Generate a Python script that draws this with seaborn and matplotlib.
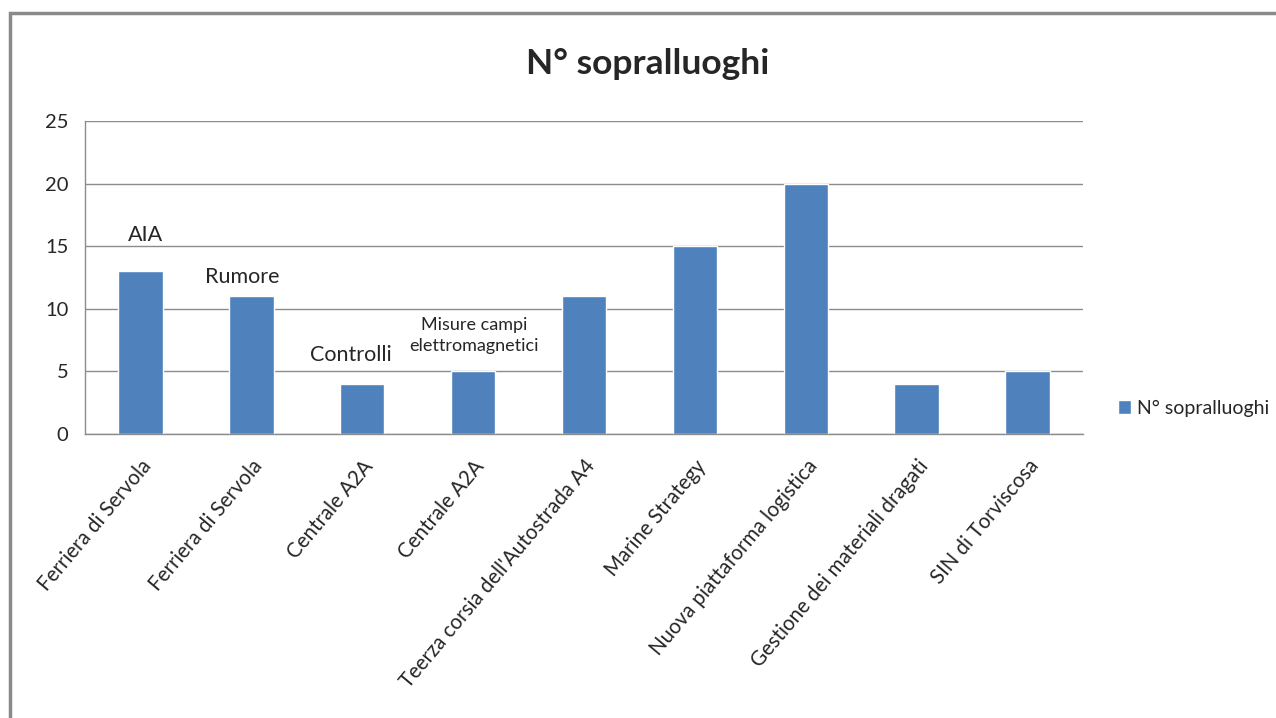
import numpy as np
import pandas as pd
import matplotlib.pyplot as plt
import seaborn as sns
from matplotlib.patches import Rectangle

# DATA
categories = ["Ferriera di Servola", "Ferriera di Servola", "Centrale A2A", "Centrale A2A",
              "Teerza corsia dell'Autostrada A4", "Marine Strategy", "Nuova piattaforma logistica",
              "Gestione dei materiali dragati", "SIN di Torviscosa"]
sopralluoghi = [13, 11, 4, 5, 11, 15, 20, 4, 5]
notes = ["AIA", "Rumore", "Controlli", "Misure campi\nelettromagnetici"]

sns.set_style("white")
plt.rcParams['font.family'] = ['Lato', 'DejaVu Sans']

df = pd.DataFrame({"pos": range(len(categories)), "n": sopralluoghi})

fig = plt.figure(figsize=(12.76, 7.18), dpi=100)
ax = fig.add_axes([85/1276, 1-434/718, (1083-85)/1276, (434-121)/718])

sns.barplot(data=df, x="pos", y="n", color="#4F81BD", saturation=1, width=0.4,
            label="N° sopralluoghi", ax=ax)

ax.set_ylim(0, 25)
ax.set_xlim(-0.5, len(categories) - 0.5)
ax.set_yticks(range(0, 26, 5))
ax.yaxis.grid(True, color="#8C8C8C", linewidth=1)
ax.set_axisbelow(True)
ax.set_xlabel("")
ax.set_ylabel("")

ax.set_xticks(range(len(categories)))
ax.set_xticklabels(categories, rotation=50, ha="right", rotation_mode="anchor", fontsize=14.8)
ax.set_xticks(np.arange(-0.5, len(categories), 1), minor=True)
ax.tick_params(axis="x", which="major", length=0, pad=16)
ax.tick_params(axis="x", which="minor", length=6, color="#8C8C8C", width=1)
ax.tick_params(axis="y", length=6, color="#8C8C8C", width=1, labelsize=14.5, pad=6)

for s in ["top", "right"]:
    ax.spines[s].set_visible(False)
for s in ["left", "bottom"]:
    ax.spines[s].set_color("#8C8C8C")
    ax.spines[s].set_linewidth(1)

# notes above the first bars
ax.text(0.05, 15.9, notes[0], ha="center", va="center", fontsize=15.5)
ax.text(0.92, 12.5, notes[1], ha="center", va="center", fontsize=15.5)
ax.text(1.9, 6.3, notes[2], ha="center", va="center", fontsize=15.5)
ax.text(3.01, 7.85, notes[3], ha="center", va="center", fontsize=13, linespacing=1.4)

ax.legend(loc="center left", bbox_to_anchor=(1110/1276, 1-408/718), bbox_transform=fig.transFigure,
          frameon=False, fontsize=14, handlelength=0.7, handleheight=0.7, handletextpad=0.3,
          borderaxespad=0)

fig.text(648/1276, 1-64/718, "N° sopralluoghi", ha="center", va="center",
         fontsize=25.5, fontweight="bold")

# outer frame (only top and left visible)
fig.patches.append(Rectangle((10/1276, -0.1), 1.2, 0.1 + (718-13)/718, transform=fig.transFigure,
                             fill=False, edgecolor="#8A8A8A", linewidth=2.5))

fig.savefig("out.png", dpi=100)
